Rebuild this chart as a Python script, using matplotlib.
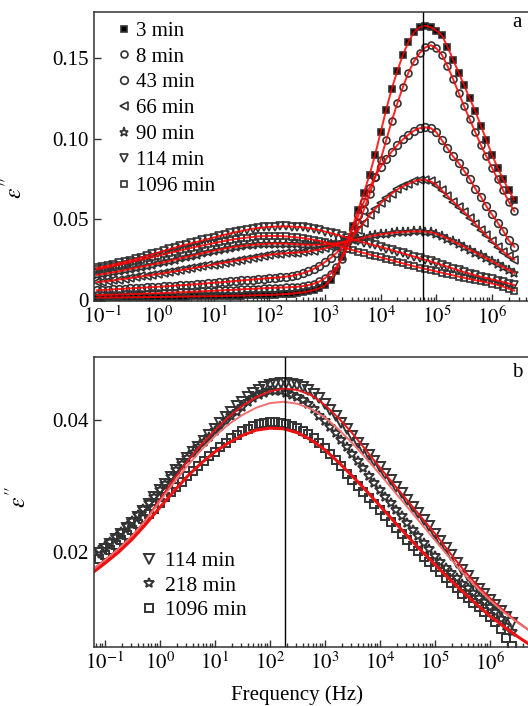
import numpy as np
import matplotlib
matplotlib.use("Agg")
import matplotlib.pyplot as plt
from matplotlib.ticker import LogLocator, FixedLocator, FixedFormatter

plt.rcParams['font.family'] = ['Liberation Serif', 'DejaVu Serif']
plt.rcParams['mathtext.fontset'] = 'stix'

# measuring frequencies: 10 points per decade, log10(Hz) from -1.1 to 6.4
log_f = np.round(np.arange(-1.1, 6.45, 0.1), 1)
freq = 10 ** log_f
# frequencies of the fitted curves (panel b), log10(Hz) from -1.25 to 6.75
log_f_fit = np.arange(-1.25, 6.8, 0.25)
freq_fit = 10 ** log_f_fit

# panel a - dielectric loss eps'' per curing time
eps_3 = [0.0015, 0.0015, 0.0016, 0.0016, 0.0016, 0.0017, 0.0017, 0.0017, 0.0018, 0.0018, 0.0018,
         0.0019, 0.0019, 0.0020, 0.0020, 0.0021, 0.0021, 0.0022, 0.0022, 0.0023, 0.0023,
         0.0024, 0.0024, 0.0025, 0.0026, 0.0026, 0.0027, 0.0028, 0.0029, 0.0030, 0.0031,
         0.0032, 0.0033, 0.0035, 0.0037, 0.0040, 0.0043, 0.0047, 0.0053, 0.0061, 0.0073,
         0.0090, 0.0125, 0.0180, 0.0265, 0.0360, 0.0460, 0.0560, 0.0665, 0.0775, 0.0900,
         0.1040, 0.1180, 0.1310, 0.1420, 0.1520, 0.1600, 0.1660, 0.1690, 0.1700, 0.1690,
         0.1670, 0.1640, 0.1570, 0.1490, 0.1410, 0.1330, 0.1250, 0.1170, 0.1080, 0.0990,
         0.0900, 0.0820, 0.0750, 0.0680, 0.0620]
eps_8 = [0.0030, 0.0031, 0.0032, 0.0033, 0.0034, 0.0035, 0.0036, 0.0037, 0.0038, 0.0040, 0.0041,
         0.0042, 0.0043, 0.0045, 0.0046, 0.0048, 0.0049, 0.0051, 0.0052, 0.0054, 0.0056,
         0.0057, 0.0059, 0.0061, 0.0062, 0.0064, 0.0066, 0.0068, 0.0069, 0.0071, 0.0073,
         0.0074, 0.0076, 0.0077, 0.0078, 0.0080, 0.0082, 0.0086, 0.0092, 0.0101, 0.0115,
         0.0135, 0.0163, 0.0203, 0.0255, 0.0320, 0.0395, 0.0475, 0.0560, 0.0655, 0.0760,
         0.0870, 0.0990, 0.1110, 0.1220, 0.1320, 0.1410, 0.1480, 0.1530, 0.1565, 0.1580,
         0.1560, 0.1520, 0.1450, 0.1370, 0.1285, 0.1200, 0.1120, 0.1040, 0.0960, 0.0890,
         0.0820, 0.0750, 0.0680, 0.0610, 0.0550]
eps_43 = [0.0060, 0.0062, 0.0064, 0.0066, 0.0068, 0.0070, 0.0072, 0.0074, 0.0076, 0.0078, 0.0080,
          0.0082, 0.0084, 0.0086, 0.0089, 0.0091, 0.0093, 0.0096, 0.0098, 0.0101, 0.0104,
          0.0107, 0.0109, 0.0112, 0.0115, 0.0118, 0.0121, 0.0124, 0.0127, 0.0130, 0.0133,
          0.0136, 0.0138, 0.0141, 0.0145, 0.0150, 0.0157, 0.0166, 0.0178, 0.0194, 0.0213,
          0.0235, 0.0260, 0.0290, 0.0320, 0.0370, 0.0440, 0.0525, 0.0610, 0.0695, 0.0765,
          0.0825, 0.0875, 0.0920, 0.0960, 0.0995, 0.1025, 0.1050, 0.1065, 0.1070, 0.1065,
          0.1040, 0.0990, 0.0940, 0.0890, 0.0850, 0.0800, 0.0750, 0.0690, 0.0640, 0.0580,
          0.0530, 0.0480, 0.0430, 0.0370, 0.0330]
eps_66 = [0.0110, 0.0114, 0.0118, 0.0122, 0.0127, 0.0131, 0.0136, 0.0141, 0.0146, 0.0151, 0.0156,
          0.0161, 0.0166, 0.0172, 0.0178, 0.0184, 0.0190, 0.0196, 0.0202, 0.0208, 0.0214,
          0.0220, 0.0226, 0.0232, 0.0238, 0.0244, 0.0250, 0.0256, 0.0262, 0.0268, 0.0274,
          0.0280, 0.0284, 0.0287, 0.0290, 0.0292, 0.0294, 0.0297, 0.0301, 0.0306, 0.0313,
          0.0321, 0.0330, 0.0340, 0.0352, 0.0368, 0.0395, 0.0435, 0.0480, 0.0525, 0.0565,
          0.0600, 0.0630, 0.0660, 0.0685, 0.0705, 0.0720, 0.0735, 0.0745, 0.0745, 0.0735,
          0.0715, 0.0680, 0.0645, 0.0610, 0.0578, 0.0545, 0.0510, 0.0472, 0.0436, 0.0400,
          0.0365, 0.0330, 0.0300, 0.0272, 0.0250]
eps_90 = [0.0155, 0.0160, 0.0166, 0.0172, 0.0178, 0.0185, 0.0192, 0.0199, 0.0206, 0.0213, 0.0220,
          0.0227, 0.0234, 0.0242, 0.0250, 0.0258, 0.0266, 0.0274, 0.0282, 0.0290, 0.0298,
          0.0305, 0.0312, 0.0319, 0.0325, 0.0330, 0.0335, 0.0339, 0.0342, 0.0345, 0.0347,
          0.0349, 0.0350, 0.0350, 0.0349, 0.0347, 0.0345, 0.0343, 0.0342, 0.0342, 0.0343,
          0.0345, 0.0348, 0.0352, 0.0357, 0.0363, 0.0370, 0.0378, 0.0386, 0.0394, 0.0401,
          0.0407, 0.0412, 0.0416, 0.0419, 0.0422, 0.0424, 0.0425, 0.0425, 0.0423, 0.0420,
          0.0410, 0.0397, 0.0381, 0.0364, 0.0347, 0.0330, 0.0312, 0.0294, 0.0276, 0.0258,
          0.0240, 0.0222, 0.0204, 0.0186, 0.0168]
# used in both panels
eps_114 = [0.0198, 0.0205, 0.0212, 0.0220, 0.0228, 0.0236, 0.0244, 0.0253, 0.0263, 0.0273, 0.0283,
           0.0294, 0.0304, 0.0314, 0.0324, 0.0334, 0.0343, 0.0352, 0.0360, 0.0369, 0.0378,
           0.0387, 0.0396, 0.0405, 0.0413, 0.0421, 0.0428, 0.0435, 0.0441, 0.0446, 0.0450,
           0.0453, 0.0455, 0.0456, 0.0456, 0.0455, 0.0453, 0.0450, 0.0446, 0.0440, 0.0433,
           0.0424, 0.0415, 0.0406, 0.0396, 0.0386, 0.0376, 0.0366, 0.0356, 0.0347, 0.0338,
           0.0329, 0.0319, 0.0309, 0.0299, 0.0289, 0.0279, 0.0269, 0.0259, 0.0249, 0.0239,
           0.0228, 0.0217, 0.0206, 0.0195, 0.0184, 0.0173, 0.0163, 0.0153, 0.0144, 0.0136,
           0.0128, 0.0120, 0.0111, 0.0102, 0.0093]
eps_1096 = [0.0190, 0.0196, 0.0203, 0.0210, 0.0218, 0.0226, 0.0234, 0.0242, 0.0250, 0.0258, 0.0266,
            0.0274, 0.0283, 0.0291, 0.0299, 0.0307, 0.0315, 0.0323, 0.0331, 0.0338, 0.0345,
            0.0352, 0.0359, 0.0366, 0.0373, 0.0378, 0.0383, 0.0387, 0.0391, 0.0394, 0.0396,
            0.0397, 0.0397, 0.0396, 0.0394, 0.0391, 0.0388, 0.0384, 0.0379, 0.0373, 0.0366,
            0.0358, 0.0349, 0.0340, 0.0330, 0.0319, 0.0309, 0.0300, 0.0291, 0.0282, 0.0273,
            0.0264, 0.0255, 0.0246, 0.0236, 0.0227, 0.0218, 0.0209, 0.0201, 0.0193, 0.0185,
            0.0177, 0.0169, 0.0161, 0.0153, 0.0145, 0.0137, 0.0130, 0.0123, 0.0116, 0.0109,
            0.0102, 0.0094, 0.0083, 0.0070, 0.0058]
# panel b only
eps_218 = [0.0203, 0.0209, 0.0216, 0.0223, 0.0231, 0.0239, 0.0247, 0.0256, 0.0265, 0.0274, 0.0284,
           0.0294, 0.0304, 0.0314, 0.0324, 0.0333, 0.0342, 0.0351, 0.0359, 0.0367, 0.0375,
           0.0383, 0.0391, 0.0399, 0.0406, 0.0413, 0.0420, 0.0427, 0.0433, 0.0438, 0.0442,
           0.0444, 0.0445, 0.0444, 0.0442, 0.0439, 0.0435, 0.0430, 0.0424, 0.0417, 0.0407,
           0.0399, 0.0390, 0.0380, 0.0370, 0.0360, 0.0349, 0.0338, 0.0327, 0.0316, 0.0305,
           0.0294, 0.0284, 0.0274, 0.0264, 0.0254, 0.0244, 0.0234, 0.0224, 0.0214, 0.0204,
           0.0194, 0.0185, 0.0176, 0.0168, 0.0160, 0.0152, 0.0145, 0.0138, 0.0131, 0.0124,
           0.0117, 0.0109, 0.0099, 0.0088, 0.0078]

# panel b - fitted curves
fit_114 = [0.0172, 0.0188, 0.0205, 0.0225, 0.0250, 0.0280, 0.0310, 0.0338, 0.0363, 0.0385, 0.0405,
           0.0422, 0.0435, 0.0444, 0.0448, 0.0446, 0.0438, 0.0423, 0.0403, 0.0380, 0.0354, 0.0328,
           0.0303, 0.0278, 0.0253, 0.0228, 0.0201, 0.0175, 0.0151, 0.0130, 0.0111, 0.0094, 0.0079]
fit_218 = [0.0172, 0.0188, 0.0205, 0.0225, 0.0249, 0.0277, 0.0305, 0.0331, 0.0355, 0.0376, 0.0394,
           0.0408, 0.0419, 0.0426, 0.0428, 0.0425, 0.0417, 0.0404, 0.0386, 0.0365, 0.0342, 0.0318,
           0.0293, 0.0268, 0.0243, 0.0218, 0.0193, 0.0169, 0.0147, 0.0127, 0.0109, 0.0093, 0.0079]
fit_1096 = [0.0167, 0.0183, 0.0200, 0.0220, 0.0243, 0.0268, 0.0292, 0.0315, 0.0335, 0.0352, 0.0366,
            0.0377, 0.0385, 0.0388, 0.0387, 0.0381, 0.0370, 0.0355, 0.0336, 0.0315, 0.0293, 0.0270,
            0.0247, 0.0224, 0.0202, 0.0181, 0.0160, 0.0140, 0.0121, 0.0103, 0.0087, 0.0072, 0.0058]

x_ticks = [1e-1, 1e0, 1e1, 1e2, 1e3, 1e4, 1e5, 1e6]
x_labels = [r'$10^{-1}$', r'$10^{0}$', r'$10^{1}$', r'$10^{2}$',
            r'$10^{3}$', r'$10^{4}$', r'$10^{5}$', r'$10^{6}$']

peak_a = 5.75e4
peak_b = 190

edge = '#333333'
fig = plt.figure(figsize=(5.28, 7.06), dpi=100)
ax1 = fig.add_axes([0.178, 0.5737, 0.8447, 0.4093])
ax2 = fig.add_axes([0.178, 0.0836, 0.8447, 0.4108])

# ---- panel a
series_a = [
    (eps_3, '3 min', 's', 'black', 4.6),
    (eps_8, '8 min', 'o', 'none', 5),
    (eps_43, '43 min', 'o', 'none', 5.5),
    (eps_66, '66 min', '<', 'none', 5.5),
    (eps_90, '90 min', '*', 'none', 6.5),
    (eps_114, '114 min', 'v', 'none', 5.5),
    (eps_1096, '1096 min', 's', 'none', 5),
]
for vals, lab, m, fc, ms in series_a:
    ax1.plot(freq, vals, linestyle='none', marker=m, mfc=fc, mec=edge, mew=1.2,
             ms=ms, label=lab)
for vals, lab, m, fc, ms in series_a:
    ax1.plot(freq, vals, color='red', lw=1.4, alpha=0.85)
ax1.axvline(peak_a, color='black', lw=1.0)

ax1.set_xscale('log')
ax1.set_xlim(10 ** -1.149, 10 ** 6.862)
ax1.set_ylim(-0.0006, 0.1785)
ax1.yaxis.set_major_locator(FixedLocator([0, 0.05, 0.10, 0.15]))
ax1.yaxis.set_major_formatter(FixedFormatter(['0', '0.05', '0.10', '0.15']))
ax1.legend(loc='upper left', bbox_to_anchor=(0.045, 0.968), frameon=False, fontsize=15,
           handlelength=1.0, handletextpad=0.05, labelspacing=0.3, borderpad=0,
           borderaxespad=0)
ax1.text(0.948, 0.962, 'a', transform=ax1.transAxes, fontsize=15, ha='center', va='center')
ax1.set_ylabel(r"$\varepsilon''$", fontsize=17)
ax1.yaxis.set_label_coords(-0.15, 0.39)

# ---- panel b
series_b = [
    (eps_114, '114 min', 'v', 6.5),
    (eps_218, '218 min', '*', 7),
    (eps_1096, '1096 min', 's', 6),
]
for vals, lab, m, ms in series_b:
    ax2.plot(freq, vals, linestyle='none', marker=m, mfc='none', mec=edge, mew=1.4,
             ms=ms, label=lab)
ax2.plot(freq_fit, fit_114, color='#e8141a', lw=1.4)
ax2.plot(freq_fit, fit_218, color='#f07070', lw=1.4)
ax2.plot(freq_fit, fit_1096, color='#ee1111', lw=2.2)
ax2.axvline(peak_b, color='black', lw=1.0)

ax2.set_xscale('log')
ax2.set_xlim(10 ** -1.2, 10 ** 6.909)
ax2.set_ylim(0.0056, 0.0496)
ax2.yaxis.set_major_locator(FixedLocator([0.02, 0.04]))
ax2.yaxis.set_major_formatter(FixedFormatter(['0.02', '0.04']))
ax2.legend(loc='upper left', bbox_to_anchor=(0.10, 0.33), frameon=False, fontsize=15.5,
           handlelength=1.0, handletextpad=0.25, labelspacing=0.2, borderpad=0,
           borderaxespad=0)
ax2.text(0.948, 0.945, 'b', transform=ax2.transAxes, fontsize=15, ha='center', va='center')
ax2.set_ylabel(r"$\varepsilon''$", fontsize=17)
ax2.yaxis.set_label_coords(-0.14, 0.517)

for ax in (ax1, ax2):
    ax.xaxis.set_major_locator(FixedLocator(x_ticks))
    ax.xaxis.set_major_formatter(FixedFormatter(x_labels))
    ax.xaxis.set_minor_locator(LogLocator(base=10, subs=np.arange(2, 10), numticks=20))
    ax.tick_params(which='both', direction='in', labelsize=15, width=1.0, color='#333333')
    ax.tick_params(which='major', length=5, pad=4)
    ax.tick_params(which='minor', length=3)
    for s in ax.spines.values():
        s.set_linewidth(1.1)
        s.set_color('#333333')

fig.text(297 / 528, 6 / 706, 'Frequency (Hz)', fontsize=15, ha='center', va='baseline')

fig.savefig('out.png', dpi=100)
